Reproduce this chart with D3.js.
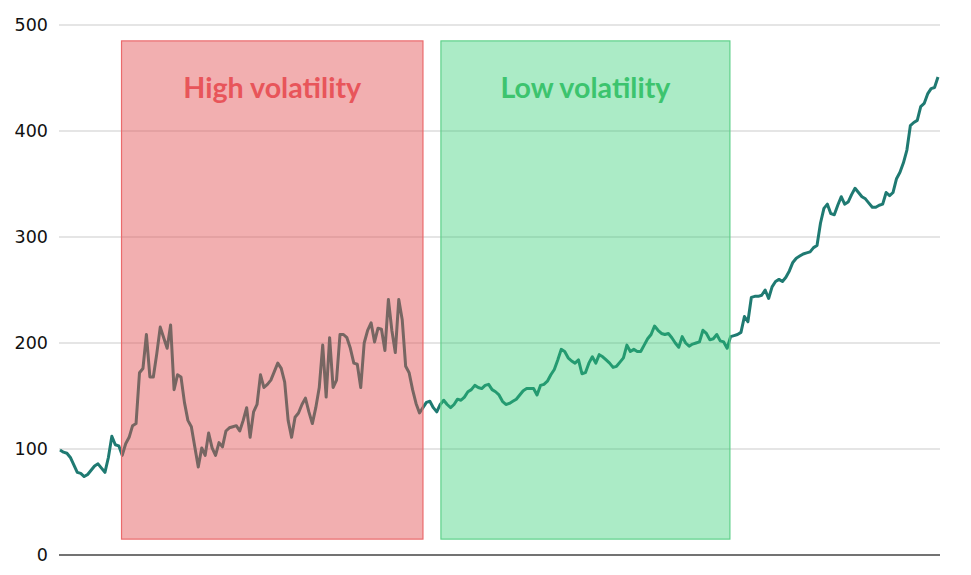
<!DOCTYPE html>
<html>
<head>
<meta charset="utf-8">
<script src="https://cdn.jsdelivr.net/npm/d3@7"></script>
<style>
  html, body { margin: 0; padding: 0; background: #fff; }
  svg { display: block; }
</style>
</head>
<body>
<svg id="chart" width="971" height="575"></svg>
<script>
// ---- data ----
const values = [
  99, 97, 96, 92, 85, 78, 77, 74, 76, 80,
  84, 86, 82, 78, 92, 112, 104, 103, 94, 105,
  111, 122, 124, 172, 176, 208, 168, 168, 190, 215,
  205, 195, 217, 156, 170, 168, 144, 127, 121, 102,
  83, 101, 94, 115, 101, 94, 106, 102, 117, 120,
  121, 122, 117, 127, 139, 111, 135, 142, 170, 158,
  161, 165, 173, 181, 176, 163, 127, 111, 130, 134,
  142, 148, 135, 124, 139, 158, 198, 149, 205, 158,
  165, 208, 208, 205, 195, 181, 180, 158, 200, 212,
  219, 201, 214, 213, 193, 241, 212, 191, 241, 222,
  178, 172, 156, 143, 134, 139, 144, 145, 139, 135,
  142, 146, 142, 139, 142, 147, 146, 149, 154, 156,
  160, 158, 157, 160, 161, 156, 154, 151, 145, 142,
  143, 145, 147, 151, 155, 157, 157, 157, 151, 160,
  161, 164, 170, 175, 184, 194, 192, 186, 183, 181,
  184, 171, 172, 181, 187, 181, 189, 187, 184, 181,
  177, 178, 182, 186, 198, 192, 194, 192, 192, 198,
  204, 208, 216, 212, 209, 208, 209, 205, 200, 196,
  206, 200, 197, 199, 200, 201, 212, 209, 203, 204,
  208, 202, 201, 195, 206, 207, 208, 210, 225, 220,
  243, 244, 244, 245, 250, 242, 253, 258, 260, 258,
  262, 268, 276, 280, 282, 284, 285, 286, 290, 292,
  313, 327, 331, 322, 321, 330, 338, 331, 333, 340,
  346, 342, 338, 336, 332, 328, 328, 330, 331, 342,
  339, 342, 355, 361, 370, 382, 405, 408, 410, 423,
  426, 435, 440, 441, 451
];
const yTicks = [0, 100, 200, 300, 400, 500];
const bandLabels = ["High volatility", "Low volatility"];
const bandStart = [17.8, 110.2];   // index units
const bandEnd = [105.0, 193.8];
const bandLow = [15, 15];          // value units
const bandHigh = [485, 485];
const bandFill = ["rgba(226,78,80,0.45)", "rgba(46,204,113,0.40)"];
const bandStroke = ["#ea6a6c", "#5fd08a"];
const bandText = ["#e8555a", "#3cc46e"];

// ---- layout ----
const svg = d3.select("#chart");
const x = d3.scaleLinear().domain([0, values.length - 1]).range([60, 938]);
const y = d3.scaleLinear().domain([0, 500]).range([555, 25]);

// gridlines
svg.append("g").selectAll("line").data(yTicks.filter(d => d > 0)).join("line")
  .attr("x1", 59).attr("x2", 940)
  .attr("y1", d => y(d)).attr("y2", d => y(d))
  .attr("stroke", "#cccccc").attr("stroke-width", 1.2);

// baseline
svg.append("line")
  .attr("x1", 59).attr("x2", 940)
  .attr("y1", y(0)).attr("y2", y(0))
  .attr("stroke", "#444").attr("stroke-width", 1.3);

// y labels
svg.append("g").selectAll("text").data(yTicks).join("text")
  .attr("x", 48).attr("y", d => y(d))
  .attr("dy", "0.36em")
  .attr("text-anchor", "end")
  .attr("font-family", "DejaVu Sans, Verdana, sans-serif")
  .attr("font-size", 17.5)
  .attr("fill", "#111")
  .text(d => d);

// line
const line = d3.line().x((d, i) => x(i)).y(d => y(d));
svg.append("path")
  .datum(values)
  .attr("d", line)
  .attr("fill", "none")
  .attr("stroke", "#1f7a72")
  .attr("stroke-width", 3)
  .attr("stroke-linejoin", "round");

// bands on top
const bands = bandLabels.map((label, i) => ({
  label, x0: bandStart[i], x1: bandEnd[i], lo: bandLow[i], hi: bandHigh[i],
  fill: bandFill[i], stroke: bandStroke[i], text: bandText[i]
}));
svg.append("g").selectAll("rect").data(bands).join("rect")
  .attr("x", d => x(d.x0)).attr("width", d => x(d.x1) - x(d.x0))
  .attr("y", d => y(d.hi)).attr("height", d => y(d.lo) - y(d.hi))
  .attr("fill", d => d.fill)
  .attr("stroke", d => d.stroke)
  .attr("stroke-width", 1.2);

const labels = svg.append("g").selectAll("text").data(bands).join("text")
  .attr("x", d => (x(d.x0) + x(d.x1)) / 2)
  .attr("y", 98)
  .attr("text-anchor", "middle")
  .attr("font-family", "Lato, 'Open Sans', sans-serif")
  .attr("font-weight", 700)
  .attr("font-size", 25)
  .attr("fill", d => d.text)
  .text(d => d.label);

// scale the label font so "High volatility" spans ~178px like the reference
labels.each(function(d, i) {
  const target = i === 0 ? 178 : 170;
  const w = this.getComputedTextLength();
  const fs = 25 * target / w;
  d3.select(this).attr("font-size", fs.toFixed(2));
});
</script>
</body>
</html>
